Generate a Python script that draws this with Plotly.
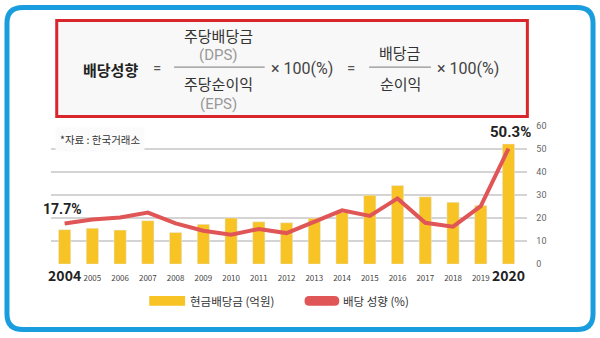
import plotly.graph_objects as go

# ---- data ----
years = [str(y) for y in range(2004, 2021)]
cash_dividend = [15.0, 15.6, 14.8, 18.9, 13.8, 17.3, 20.1, 18.4, 18.0, 20.0,
                 22.5, 30.0, 34.2, 29.3, 26.9, 25.5, 52.3]
payout_ratio = [17.7, 19.4, 20.3, 22.4, 17.7, 14.5, 12.8, 15.3, 13.5, 18.4,
                23.4, 21.0, 28.6, 18.0, 16.3, 25.2, 50.3]
y_ticks = [0, 10, 20, 30, 40, 50, 60]

W, H = 600, 338
FONT = "Noto Sans CJK KR"
YELLOW = "#F7C325"
RED = "#E05555"
BLUE = "#1A9DDE"


def px(x):
    return x / W


def py(y):
    return 1 - y / H


tick_text = []
for i, y in enumerate(years):
    if i == 0 or i == len(years) - 1:
        tick_text.append(f"<b><span style='font-size:14px;color:#222'>{y}</span></b>")
    else:
        tick_text.append(y)

fig = go.Figure()
fig.add_trace(go.Bar(
    x=list(range(len(years))), y=cash_dividend, marker_color=YELLOW,
    width=0.44, name="현금배당금 (억원)", showlegend=False,
))
fig.add_trace(go.Scatter(
    x=list(range(len(years))), y=payout_ratio, mode="lines",
    line=dict(color=RED, width=4), name="배당 성향 (%)", showlegend=False,
))

fig.update_layout(
    width=W, height=H, margin=dict(l=0, r=0, t=0, b=0),
    paper_bgcolor="white", plot_bgcolor="white",
    font=dict(family=FONT, color="#555"),
    xaxis=dict(
        domain=[px(48), px(527)], range=[-0.5, 16.68],
        tickvals=list(range(len(years))), ticktext=tick_text,
        tickfont=dict(size=8, color="#444", family=FONT),
        showgrid=False, zeroline=False, showline=False, ticks="",
        ticklabelstandoff=8,
    ),
    yaxis=dict(
        domain=[py(267), py(125)], range=[0, 60], side="right",
        tickvals=y_ticks, tickfont=dict(size=9, color="#666", family="Roboto"),
        gridcolor="#D4D4D4", gridwidth=1.5, zeroline=False, showline=False,
        ticks="", ticklabelstandoff=8,
    ),
    bargap=0.5,
)

shapes = []
# outer rounded blue frame
x0, x1, y0, y1, r = 4, 593, 2.5, 334.5, 16
path = (f"M {px(x0 + r)},{py(y0)} L {px(x1 - r)},{py(y0)} "
        f"Q {px(x1)},{py(y0)} {px(x1)},{py(y0 + r)} "
        f"L {px(x1)},{py(y1 - r)} Q {px(x1)},{py(y1)} {px(x1 - r)},{py(y1)} "
        f"L {px(x0 + r)},{py(y1)} Q {px(x0)},{py(y1)} {px(x0)},{py(y1 - r)} "
        f"L {px(x0)},{py(y0 + r)} Q {px(x0)},{py(y0)} {px(x0 + r)},{py(y0)} Z")
shapes.append(dict(type="path", path=path, xref="paper", yref="paper",
                   line=dict(color=BLUE, width=5), layer="below"))
# formula box
shapes.append(dict(type="rect", xref="paper", yref="paper",
                   x0=px(54), x1=px(527), y0=py(16), y1=py(115),
                   line=dict(color="#D8262C", width=3), fillcolor="#F8F8F8",
                   layer="below"))
# fraction bars
shapes.append(dict(type="line", xref="paper", yref="paper",
                   x0=px(172), x1=px(263), y0=py(64), y1=py(64),
                   line=dict(color="#777", width=1)))
shapes.append(dict(type="line", xref="paper", yref="paper",
                   x0=px(368), x1=px(430), y0=py(64), y1=py(64),
                   line=dict(color="#777", width=1)))
# legend swatches
shapes.append(dict(type="rect", xref="paper", yref="paper",
                   x0=px(147), x1=px(183), y0=py(300), y1=py(310),
                   line=dict(width=0), fillcolor=YELLOW))
shapes.append(dict(type="path", xref="paper", yref="paper",
                   path=(f"M {px(308)},{py(300)} L {px(333)},{py(300)} "
                         f"Q {px(338)},{py(300)} {px(338)},{py(305)} "
                         f"Q {px(338)},{py(310)} {px(333)},{py(310)} "
                         f"L {px(308)},{py(310)} Q {px(303)},{py(310)} {px(303)},{py(305)} "
                         f"Q {px(303)},{py(300)} {px(308)},{py(300)} Z"),
                   line=dict(width=0), fillcolor=RED))
fig.update_layout(shapes=shapes)

ann = []


def text(x, y, s, size=14, color="#333", bold=False, xanchor="center", **kw):
    if bold:
        s = f"<b>{s}</b>"
    ann.append(dict(x=px(x), y=py(y), xref="paper", yref="paper", text=s,
                    showarrow=False, xanchor=xanchor, yanchor="middle",
                    font=dict(size=size, color=color, family=kw.pop("family", FONT)),
                    **kw))


# formula
text(108, 66, "배당성향", 15, "#222", bold=True)
text(155, 65, "=", 15, "#555", family="Roboto")
text(217, 31, "주당배당금", 15, "#333")
text(217, 52, "(DPS)", 15, "#999", family="Roboto")
text(217, 81, "주당순이익", 15, "#333")
text(217, 102, "(EPS)", 15, "#999", family="Roboto")
text(300, 65, "× 100(%)", 16, "#444", family="Roboto")
text(350, 65, "=", 15, "#555", family="Roboto")
text(399, 49, "배당금", 15, "#333")
text(399, 81, "순이익", 15, "#333")
text(467, 65, "× 100(%)", 16, "#444", family="Roboto")

# source note
text(52, 139, "*자료 : 한국거래소", 10.5, "#333", xanchor="left",
     bgcolor="#FBFBFB", borderpad=4)

# value labels on the payout line
ann.append(dict(x=0, y=payout_ratio[0], xref="x", yref="y",
                text=f"<b>{payout_ratio[0]}%</b>", showarrow=False,
                yshift=14, xshift=-2, font=dict(size=14, color="#222", family="Roboto")))
ann.append(dict(x=16, y=payout_ratio[-1], xref="x", yref="y",
                text=f"<b>{payout_ratio[-1]}%</b>", showarrow=False,
                yshift=17, xshift=2, font=dict(size=15, color="#222", family="Roboto")))

# legend labels
text(186, 305, "현금배당금 (억원)", 11.5, "#333", xanchor="left")
text(340, 305, "배당 성향 (%)", 11.5, "#333", xanchor="left")

fig.update_layout(annotations=ann)
fig.write_html("out.html")
